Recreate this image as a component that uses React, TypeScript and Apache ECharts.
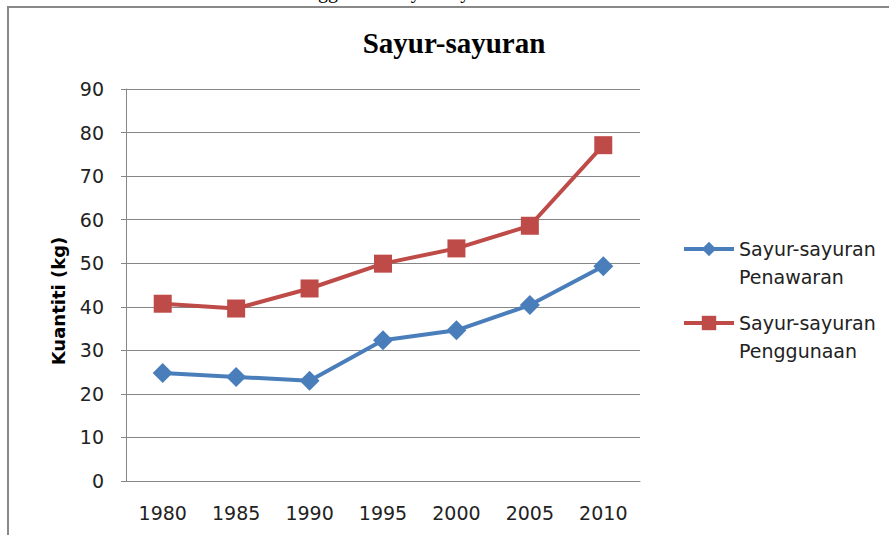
import React, { useEffect, useRef } from "react";
import * as echarts from "echarts";

const years = ["1980", "1985", "1990", "1995", "2000", "2005", "2010"];
const penawaran = [24.8, 23.9, 23.0, 32.3, 34.6, 40.4, 49.3];
const penggunaan = [40.7, 39.6, 44.2, 49.9, 53.4, 58.6, 77.1];
const seriesNames = ["Sayur-sayuran\nPenawaran", "Sayur-sayuran\nPenggunaan"];
const yMin = 0;
const yMax = 90;
const yStep = 10;

const sans = "DejaVu Sans";
const gridColor = "#868686";

export default function App() {
  const ref = useRef<HTMLDivElement>(null);
  useEffect(() => {
    if (!ref.current) return;
    const chart = echarts.init(ref.current, undefined, { renderer: "svg" });
    chart.setOption({
      animation: false,
      backgroundColor: "#ffffff",
      title: {
        text: "Sayur-sayuran",
        left: 449,
        top: 23,
        textAlign: "center",
        textStyle: {
          fontFamily: "Liberation Serif",
          fontWeight: "bold",
          fontSize: 29,
          color: "#000000",
        },
      },
      legend: {
        orient: "vertical",
        left: 682,
        top: 207,
        padding: 0,
        itemWidth: 50,
        itemHeight: 18,
        itemGap: -10,
        itemTextGap: 5,
        data: seriesNames,
        formatter: (name: string) => "\n" + name,
        lineStyle: { width: 4 },
        textStyle: {
          fontFamily: sans,
          fontSize: 19,
          color: "#222222",
          lineHeight: 28,
        },
      },
      grid: { left: 126, right: 249, top: 89, bottom: 54, containLabel: false },
      xAxis: {
        type: "category",
        data: years,
        boundaryGap: true,
        axisLine: { lineStyle: { color: gridColor, width: 1 } },
        axisTick: { show: false },
        axisLabel: { fontFamily: sans, fontSize: 19, color: "#222222", margin: 22 },
      },
      yAxis: {
        type: "value",
        min: yMin,
        max: yMax,
        interval: yStep,
        axisLine: { show: true, lineStyle: { color: gridColor, width: 1 } },
        axisTick: { show: true, inside: false, length: 5, lineStyle: { color: gridColor } },
        splitLine: { lineStyle: { color: gridColor, width: 1 } },
        axisLabel: { fontFamily: sans, fontSize: 19, color: "#222222", margin: 22 },
      },
      graphic: [
        {
          type: "rect",
          shape: { x: 8, y: 7, width: 1200, height: 1200 },
          style: { fill: "none", stroke: "#888888", lineWidth: 2 },
          silent: true,
        },
        {
          type: "text",
          x: 58,
          y: 301,
          rotation: Math.PI / 2,
          style: {
            text: "Kuantiti (kg)",
            fontFamily: sans,
            fontWeight: "bold",
            fontSize: 18,
            fill: "#000000",
            textAlign: "center",
            textVerticalAlign: "middle",
          },
        },
        {
          type: "text",
          x: 288,
          y: -9,
          style: {
            text: "Penggunaan Sayur-sayuran",
            fontFamily: "Liberation Serif",
            fontSize: 20,
            fill: "#000000",
            textAlign: "left",
            textVerticalAlign: "middle",
          },
        },
      ],
      series: [
        {
          name: seriesNames[0],
          type: "line",
          data: penawaran,
          symbol: "diamond",
          symbolSize: 20,
          lineStyle: { color: "#4A7EBB", width: 4 },
          itemStyle: { color: "#4A7EBB" },
        },
        {
          name: seriesNames[1],
          type: "line",
          data: penggunaan,
          symbol: "rect",
          symbolSize: 18,
          lineStyle: { color: "#BE4B48", width: 4 },
          itemStyle: { color: "#BE4B48" },
        },
      ],
    });
    return () => chart.dispose();
  }, []);
  return <div ref={ref} style={{ width: 889, height: 535, position: "fixed", left: 0, top: 0 }} />;
}
